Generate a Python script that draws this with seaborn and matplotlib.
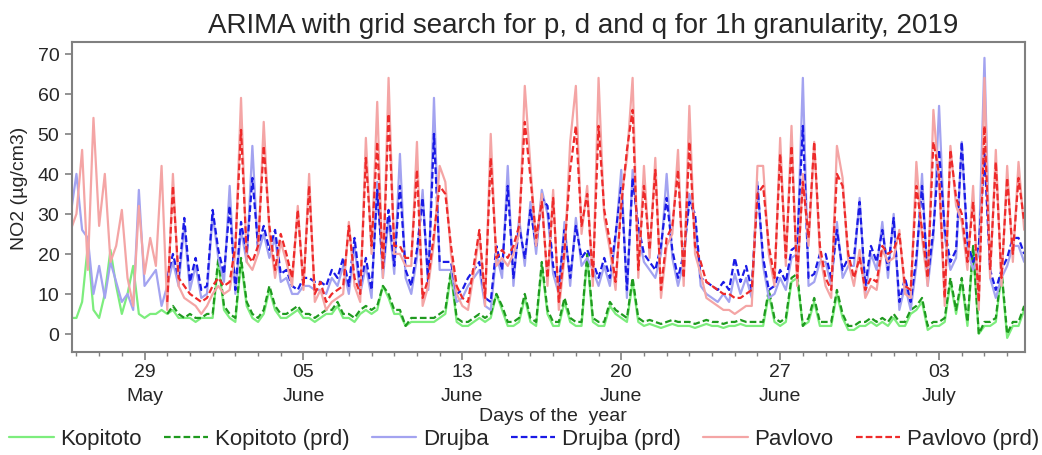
import numpy as np
import pandas as pd
import matplotlib
matplotlib.use("Agg")
import matplotlib.pyplot as plt
from matplotlib.ticker import FixedLocator, MultipleLocator
import seaborn as sns

# Six-hourly NO2 readings (µg/cm3), starting 25 May 18:00; one row per day
kopitoto = [4,
    4, 8, 22, 6,    4, 10, 21, 12,   5, 10, 17, 5,    4, 5, 5, 6,
    5, 6, 4, 4,     4, 3, 4, 4,      4, 18, 6, 4,     3, 18, 7, 4,
    3, 5, 11, 6,    4, 4, 5, 6,      4, 4, 3, 4,      5, 5, 7, 4,
    4, 3, 5, 6,     5, 6, 12, 9,     5, 5, 2, 3,      3, 3, 3, 3,
    4, 5, 15, 3,    2, 2, 3, 4,      3, 4, 10, 6,     2, 2, 3, 9,
    3, 2, 17, 5,    2, 2, 8, 3,      2, 2, 19, 3,     2, 2, 7, 5,
    4, 3, 13, 3,    2, 2.5, 2, 1.5,  2, 2.5, 2, 2,    2, 1.5, 2, 2.5,
    2, 2, 1.5, 2,   2, 2.5, 2, 2,    2, 2, 10, 3,     2, 3, 13, 14,
    2, 3, 8, 2,     2, 2, 10, 4,     1, 1, 2, 2,      3, 2, 3, 2,
    4, 2, 2, 5,     6, 8, 1, 2,      2, 3, 13, 5,     13, 2, 21, 0,
    2, 2, 3, 15,    -1, 2, 2, 6]
kopitoto_prd = [
    5, 7, 5, 4,     5, 4, 4, 5,      5, 19, 7, 5,     4, 19, 8, 5,
    4, 6, 12, 7,    5, 5, 6, 7,      5, 5, 4, 5,      6, 6, 8, 5,
    5, 4, 6, 7,     6, 7, 12, 10,    6, 6, 2, 4,      4, 4, 4, 4,
    5, 6, 16, 4,    3, 3, 4, 5,      4, 5, 10, 7,     3, 3, 4, 10,
    4, 3, 18, 6,    3, 3, 9, 4,      3, 3, 20, 4,     3, 3, 8, 6,
    5, 4, 14, 4,    3, 3.5, 3, 2.5,  3, 3.5, 3, 3,    3, 2.5, 3, 3.5,
    3, 3, 2.5, 3,   3, 3.5, 3, 3,    3, 3, 11, 4,     3, 4, 14, 15,
    2, 4, 9, 3,     3, 3, 11, 5,     2, 2, 3, 3,      4, 3, 4, 3,
    5, 3, 3, 6,     7, 9, 2, 3,      3, 4, 14, 6,     14, 3, 22, 0,
    3, 3, 4, 16,    0, 3, 3, 7]
drujba = [30,
    40, 26, 24, 10,  17, 9, 18, 13,   8, 10, 6, 36,    12, 14, 16, 7,
    12, 18, 12, 27,  11, 17, 9, 10,   30, 19, 13, 37,  10, 26, 18, 47,
    20, 25, 19, 24,  13, 14, 10, 10,  12, 12, 11, 11,  10, 14, 12, 17,
    10, 22, 10, 17,  9, 38, 14, 29,   15, 45, 14, 10,  19, 36, 11, 59,
    16, 16, 16, 8,   9, 12, 14, 16,   7, 6, 20, 14,    42, 12, 29, 17,
    33, 20, 36, 30,  15, 10, 28, 12,  29, 17, 19, 16,  12, 17, 12, 24,
    41, 9, 41, 25,   18, 16, 14, 20,  40, 19, 12, 18,  35, 28, 12, 10,
    9, 8, 10, 8,     15, 10, 14, 9,   38, 17, 9, 10,   14, 11, 19, 20,
    64, 12, 13, 18,  18, 12, 28, 14,  17, 17, 34, 10,  20, 16, 28, 14,
    30, 6, 12, 6,    17, 40, 12, 24,  57, 24, 16, 19,  48, 21, 16, 20,
    69, 14, 9, 14,   17, 22, 22, 18]
drujba_prd = [
    14, 20, 14, 29,  13, 19, 11, 12,  31, 21, 15, 32,  11, 28, 20, 39,
    22, 27, 21, 26,  15, 16, 12, 11,  14, 14, 13, 13,  12, 16, 14, 19,
    12, 24, 12, 19,  11, 36, 16, 31,  17, 37, 16, 12,  21, 34, 13, 50,
    18, 18, 18, 10,  11, 14, 16, 18,  9, 8, 22, 16,    37, 14, 27, 19,
    31, 22, 34, 32,  17, 12, 26, 14,  27, 19, 21, 18,  14, 19, 14, 25,
    37, 11, 39, 27,  20, 18, 16, 22,  34, 21, 14, 20,  33, 30, 14, 13,
    12, 11, 13, 11,  19, 13, 17, 11,  37, 19, 11, 12,  16, 13, 21, 22,
    52, 14, 15, 20,  20, 14, 26, 16,  19, 19, 33, 12,  22, 18, 26, 16,
    29, 8, 14, 8,    19, 37, 14, 26,  46, 26, 18, 21,  48, 23, 18, 22,
    45, 16, 11, 16,  19, 24, 24, 20]
pavlovo = [26,
    30, 46, 16, 54,  27, 40, 18, 22,  31, 14, 7, 32,   15, 24, 17, 42,
    6, 40, 12, 9,    8, 7, 5, 7,      10, 12, 10, 11,  20, 59, 18, 16,
    20, 53, 25, 14,  23, 18, 12, 32,  11, 40, 8, 11,   6, 8, 9, 10,
    28, 12, 8, 49,   20, 58, 14, 64,  20, 20, 17, 17,  48, 7, 12, 23,
    42, 38, 20, 10,  7, 6, 15, 25,    7, 50, 17, 19,   17, 20, 25, 62,
    42, 22, 35, 12,  36, 6, 19, 48,   62, 25, 37, 12,  64, 29, 21, 11,
    34, 44, 64, 14,  42, 19, 44, 9,   22, 25, 46, 12,  57, 20, 15, 9,
    8, 7, 6, 6,      5, 6, 7, 7,      42, 42, 20, 12,  49, 17, 52, 12,
    40, 22, 48, 20,  12, 9, 47, 39,   18, 12, 21, 9,   12, 11, 21, 18,
    19, 26, 10, 9,   43, 24, 12, 56,  38, 7, 47, 32,   28, 16, 37, 6,
    64, 14, 46, 12,  42, 18, 43, 26]
pavlovo_prd = [
    8, 37, 14, 12,   10, 9, 8, 9,     12, 14, 12, 13,  22, 51, 20, 18,
    22, 47, 27, 16,  25, 20, 14, 31,  12, 37, 10, 13,  8, 10, 11, 12,
    27, 14, 10, 44,  22, 48, 16, 55,  22, 22, 19, 19,  41, 9, 14, 25,
    37, 35, 22, 12,  9, 8, 17, 26,    9, 44, 19, 21,   19, 22, 27, 53,
    39, 24, 33, 14,  34, 8, 21, 41,   52, 27, 35, 14,  52, 31, 23, 13,
    32, 46, 56, 16,  37, 21, 41, 11,  24, 27, 41, 14,  48, 22, 18, 13,
    12, 11, 10, 10,  9, 9, 10, 11,    35, 37, 22, 14,  45, 19, 47, 14,
    38, 24, 48, 22,  14, 11, 40, 37,  20, 14, 19, 11,  14, 13, 22, 20,
    21, 25, 12, 11,  37, 26, 14, 48,  40, 9, 46, 34,   30, 18, 33, 8,
    52, 16, 43, 14,  39, 20, 39, 28]

tick_days = ["29", "05", "13", "20", "27", "03"]
tick_months = ["May", "June", "June", "June", "June", "July"]

series = [
    ("Kopitoto", kopitoto, "#7ded7d", "-"),
    ("Kopitoto (prd)", kopitoto_prd, "#1f9a1f", "--"),
    ("Drujba", drujba, "#a3a3f0", "-"),
    ("Drujba (prd)", drujba_prd, "#1a1ae6", "--"),
    ("Pavlovo", pavlovo, "#f4a5a5", "-"),
    ("Pavlovo (prd)", pavlovo_prd, "#ee2a2a", "--"),
]

sns.set_theme(style="white")
plt.rcParams["font.family"] = ["Liberation Sans", "DejaVu Sans"]

fig = plt.figure(figsize=(10.42, 4.56), dpi=100)
ax = fig.add_axes([0.069, 0.226, 0.915, 0.68])

obs_start, pred_start, step = -0.25, 4.0, 0.25
for name, values, color, ls in series:
    start = obs_start if ls == "-" else pred_start
    t = start + step * np.arange(len(values))
    df = pd.DataFrame({"day": t, "no2": values})
    kw = dict(dashes=(3.0, 1.4)) if ls == "--" else {}
    sns.lineplot(data=df, x="day", y="no2", ax=ax, color=color, lw=1.6,
                 label=name, legend=False, **kw)

ax.set_xlim(-0.2, 41.8)
ax.set_ylim(-4.5, 73)
ax.yaxis.set_major_locator(FixedLocator(range(0, 71, 10)))
ax.xaxis.set_major_locator(FixedLocator([3, 10, 17, 24, 31, 38]))
ax.xaxis.set_minor_locator(MultipleLocator(1))
ax.set_xticklabels([f"{d}\n{m}" for d, m in zip(tick_days, tick_months)],
                   fontsize=14, linespacing=1.55)
ax.tick_params(axis="y", labelsize=14, length=5, width=1.2, color="#808080",
               direction="out", left=True, pad=4)
ax.tick_params(axis="x", which="major", length=6, width=1.2, color="#808080",
               direction="out", bottom=True, pad=2)
ax.tick_params(axis="x", which="minor", length=3, width=1.0, color="#808080",
               direction="out", bottom=True)
for s in ax.spines.values():
    s.set_color("#808080")
    s.set_linewidth(1.5)

ax.set_xlabel("Days of the  year", fontsize=14)
ax.xaxis.set_label_coords(0.505, -0.178)
ax.set_ylabel("NO2 (µg/cm3)", fontsize=14)
ax.yaxis.set_label_coords(-0.046, 0.53)
ax.set_title("ARIMA with grid search for p, d and q for 1h granularity, 2019",
             fontsize=20, x=0.536, pad=7)

handles, labels = ax.get_legend_handles_labels()
fig.legend(handles, labels, loc="center", bbox_to_anchor=(0.503, 1 - 440 / 456),
           ncol=6, frameon=False, handlelength=2.0, handletextpad=0.3,
           columnspacing=1.0, prop={"size": 16})

fig.savefig("out.png", dpi=100)
